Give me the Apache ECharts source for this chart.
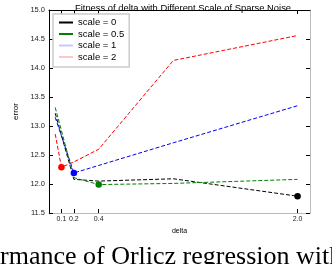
<!DOCTYPE html>
<html>
<head>
<meta charset="utf-8">
<script src="https://cdn.jsdelivr.net/npm/echarts@6/dist/echarts.min.js"></script>
<style>
html,body{margin:0;padding:0;background:#fff;}
#c{width:332px;height:264px;}
</style>
</head>
<body>
<div id="c"></div>
<script>
var deltas = [0.05, 0.1, 0.2, 0.4, 1.0, 2.0];
var seriesNames = ['scale = 0', 'scale = 0.5', 'scale = 1', 'scale = 2'];
var scale0 = [13.22, 12.84, 12.08, 12.05, 12.09, 11.79];
var scale05 = [13.32, 12.92, 12.11, 11.99, 12.01, 12.08];
var scale1 = [13.15, 12.83, 12.19, 12.32, 12.71, 13.35];
var scale2 = [12.86, 12.29, 12.38, 12.60, 14.13, 14.56];
var xTicks = [0.1, 0.2, 0.4, 2.0];
var yTicks = [11.5, 12.0, 12.5, 13.0, 13.5, 14.0, 14.5, 15.0];

var colors = ['#000000', '#007f00', '#0000ff', '#ff0000'];
var legendColors = ['#000000', '#007f00', '#c8c8ff', '#ffc8c8'];
var allValues = [scale0, scale05, scale1, scale2];
var FONT = 'Liberation Sans';

function mkSeries(i) {
  var vals = allValues[i];
  var minIdx = vals.indexOf(Math.min.apply(null, vals));
  return {
    name: seriesNames[i],
    type: 'line',
    data: deltas.map(function (d, k) { return [d, vals[k]]; }),
    symbol: 'circle',
    symbolSize: function (v, p) { return p.dataIndex === minIdx ? 6.5 : 0; },
    showSymbol: true,
    itemStyle: { color: colors[i] },
    lineStyle: { color: colors[i], width: 1, type: [4, 2] },
    animation: false,
    silent: true
  };
}

var chart = echarts.init(document.getElementById('c'), null, { renderer: 'canvas' });
chart.setOption({
  animation: false,
  backgroundColor: '#fff',
  title: {
    text: 'Fitness of delta with Different Scale of Sparse Noise',
    left: 178, top: -1, textAlign: 'center',
    textStyle: { fontFamily: FONT, fontSize: 9.4, fontWeight: 'normal', color: '#000' }
  },
  grid: { left: 49, right: 22, top: 10, bottom: 51, containLabel: false },
  legend: {
    orient: 'vertical',
    left: 53, top: 14,
    padding: [3.5, 5, 5, 6],
    itemWidth: 14, itemHeight: 2, itemGap: 1.5,
    icon: 'rect',
    borderColor: '#cccccc', borderWidth: 1.5,
    backgroundColor: '#fff',
    textStyle: { fontFamily: FONT, fontSize: 9.5, color: '#000' },
    data: seriesNames.map(function (n, i) {
      return { name: n, icon: 'rect', itemStyle: { color: legendColors[i] } };
    })
  },
  xAxis: [{
    type: 'value', min: 0, max: 2.1,
    name: 'delta', nameLocation: 'middle', nameGap: 12,
    nameTextStyle: { fontFamily: FONT, fontSize: 7, color: '#000' },
    axisLine: { show: true, lineStyle: { color: '#bbbbbb', width: 1 } },
    axisTick: { show: true, inside: true, length: 4, customValues: xTicks, lineStyle: { color: '#000' } },
    axisLabel: { customValues: xTicks, fontFamily: FONT, fontSize: 7, color: '#222', margin: 3,
      formatter: function (v) { return v.toFixed(1); } },
    splitLine: { show: false }
  }, {
    type: 'value', min: 0, max: 2.1, position: 'top',
    axisLine: { show: true, onZero: false, lineStyle: { color: '#000', width: 1 } },
    axisTick: { show: true, inside: true, length: 4, customValues: xTicks, lineStyle: { color: '#000' } },
    axisLabel: { show: false },
    splitLine: { show: false }
  }],
  yAxis: [{
    type: 'value', min: 11.5, max: 15.0, interval: 0.5,
    name: 'error', nameLocation: 'middle', nameGap: 16, nameRotate: 90,
    nameTextStyle: { fontFamily: FONT, fontSize: 8, color: '#000' },
    axisLine: { show: true, onZero: false, lineStyle: { color: '#000', width: 1 } },
    axisTick: { show: true, inside: true, length: 4, lineStyle: { color: '#000' } },
    axisLabel: { fontFamily: FONT, fontSize: 7.5, color: '#222', margin: 4,
      formatter: function (v) { return v.toFixed(1); } },
    splitLine: { show: false }
  }, {
    type: 'value', min: 11.5, max: 15.0, interval: 0.5, position: 'right',
    axisLine: { show: true, onZero: false, lineStyle: { color: '#bbbbbb', width: 1 } },
    axisTick: { show: true, inside: true, length: 4, lineStyle: { color: '#000' } },
    axisLabel: { show: false },
    splitLine: { show: false }
  }],
  series: [mkSeries(0), mkSeries(1), mkSeries(2), mkSeries(3)],
  graphic: [{
    type: 'text', left: 0, top: 244,
    style: { text: 'rmance of Orlicz regression with', font: '26px "Liberation Serif"', fill: '#000' }
  }]
});
</script>
</body>
</html>
